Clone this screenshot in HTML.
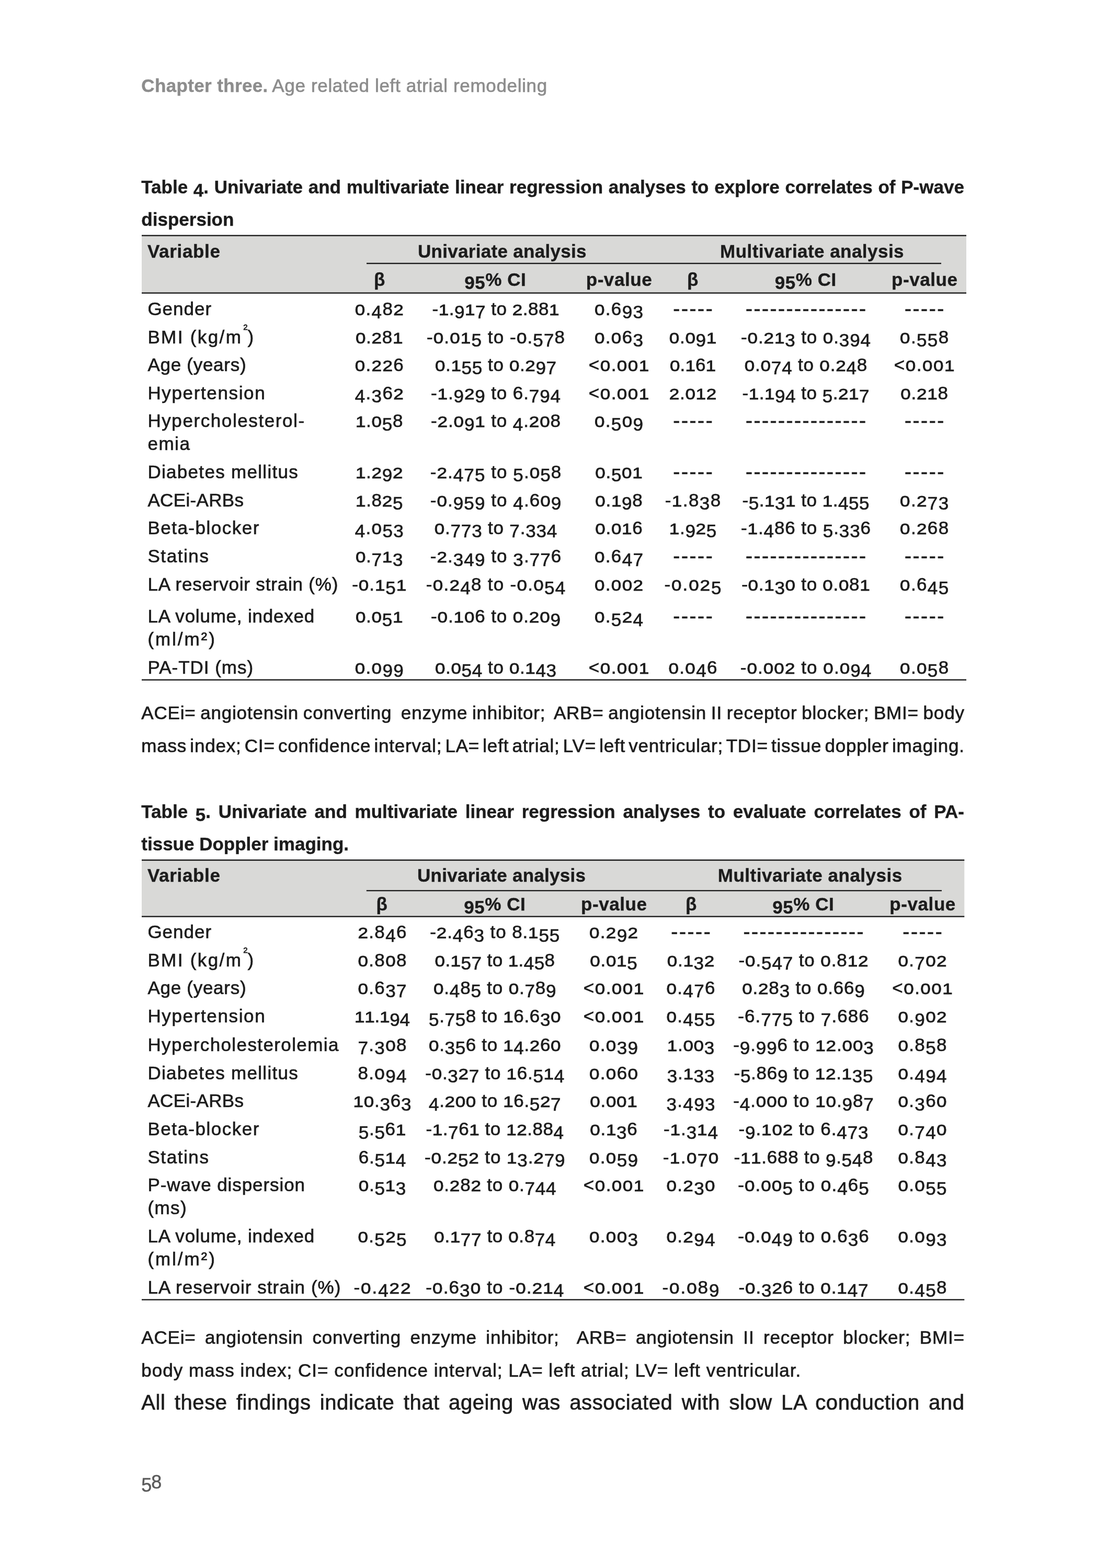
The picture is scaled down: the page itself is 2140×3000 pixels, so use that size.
<!DOCTYPE html>
<html lang="en">
<head>
<meta charset="utf-8">
<title>Chapter three. Age related left atrial remodeling</title>
<style>
html,body{margin:0;padding:0;background:#fff;}
body{width:2140px;height:3000px;position:relative;overflow:hidden;font-family:"Liberation Sans", sans-serif;color:#1c1c1c;}
.page{position:absolute;left:0;top:0;width:2140px;height:3000px;background:#fff;}
.t{position:absolute;white-space:pre;margin:0;padding:0;font-kerning:normal;-webkit-text-stroke:0.7px currentColor;}
.bd{-webkit-text-stroke:0.4px currentColor;}
.c{transform:translateX(-50%);}
b,.b{font-weight:bold;}
sup{font-size:15px;-webkit-text-stroke:0.8px currentColor;line-height:0;vertical-align:baseline;position:relative;top:-26px;letter-spacing:0;margin-left:2px;margin-right:0;}
svg.rules{position:absolute;left:0;top:0;}
.pn{-webkit-text-stroke:0.5px currentColor;}
i{font-style:normal;position:relative;top:6.5px;}
u{text-decoration:none;display:inline-block;-webkit-text-stroke:1px currentColor;transform:scaleY(0.85);transform-origin:50% 33.13px;}
</style>
</head>
<body>
<div class="page">
<svg class="rules" width="2140" height="3000" viewBox="0 0 2140 3000">
<rect x="271" y="451" width="1577" height="109" fill="#d9d9d7"/>
<rect x="271" y="449.5" width="1577" height="2.4" fill="#1c1c1c"/>
<rect x="701" y="502.8" width="1099" height="2.4" fill="#1c1c1c"/>
<rect x="271" y="559.4" width="1577" height="2.4" fill="#1c1c1c"/>
<rect x="271" y="1299.6" width="1577" height="2.4" fill="#1c1c1c"/>
<rect x="271" y="1646" width="1573.3" height="107" fill="#d9d9d7"/>
<rect x="271" y="1644.4" width="1573.3" height="2.5" fill="#1c1c1c"/>
<rect x="700.8" y="1702.9" width="1100.2" height="2.3" fill="#1c1c1c"/>
<rect x="271" y="1752.4" width="1573.3" height="2.4" fill="#1c1c1c"/>
<rect x="271" y="2485.5" width="1573.3" height="2.4" fill="#1c1c1c"/>
</svg>
<div class="t bd rh" style="top:142.87px;font-size:35px;line-height:42px;color:#8d8d8d;font-weight:bold;letter-spacing:0.363px;left:270.3px">Chapter three.</div>
<div class="t rh" style="top:142.87px;font-size:35px;line-height:42px;color:#8d8d8d;letter-spacing:0.666px;left:520.3px">Age related left atrial remodeling</div>
<div class="t bd cap" style="top:336.87px;font-size:35px;line-height:42px;font-weight:bold;word-spacing:1.017px;left:270.3px">Table <i>4</i>. Univariate and multivariate linear regression analyses to explore correlates of P-wave</div>
<div class="t bd cap" style="top:399.37px;font-size:35px;line-height:42px;font-weight:bold;letter-spacing:0.013px;left:270.3px">dispersion</div>
<div class="t bd th" style="top:459.87px;font-size:35px;line-height:42px;font-weight:bold;letter-spacing:0.676px;left:282px">Variable</div>
<div class="t bd c th" style="top:459.87px;font-size:35px;line-height:42px;font-weight:bold;letter-spacing:0.299px;left:960.45px">Univariate analysis</div>
<div class="t bd c th" style="top:459.87px;font-size:35px;line-height:42px;font-weight:bold;letter-spacing:0.455px;left:1553.03px">Multivariate analysis</div>
<div class="t bd c th" style="top:513.87px;font-size:35px;line-height:42px;font-weight:bold;left:725.60px">β</div>
<div class="t bd c th" style="top:513.87px;font-size:35px;line-height:42px;font-weight:bold;letter-spacing:0.541px;left:947.27px"><i>9</i><i>5</i>% CI</div>
<div class="t bd c th" style="top:513.87px;font-size:35px;line-height:42px;font-weight:bold;letter-spacing:0.592px;left:1184.00px">p-value</div>
<div class="t bd c th" style="top:513.87px;font-size:35px;line-height:42px;font-weight:bold;left:1324.70px">β</div>
<div class="t bd c th" style="top:513.87px;font-size:35px;line-height:42px;font-weight:bold;letter-spacing:0.541px;left:1540.77px"><i>9</i><i>5</i>% CI</div>
<div class="t bd c th" style="top:513.87px;font-size:35px;line-height:42px;font-weight:bold;letter-spacing:0.592px;left:1768.30px">p-value</div>
<div class="t td lab" style="top:569.87px;font-size:35px;line-height:42px;letter-spacing:0.990px;left:282.4px">Gender</div>
<div class="t c td" style="top:569.87px;font-size:35px;line-height:42px;letter-spacing:1.348px;left:725.87px"><u>0</u>.<i>4</i>8<u>2</u></div>
<div class="t c td" style="top:569.87px;font-size:35px;line-height:42px;letter-spacing:0.536px;left:948.27px">-<u>1</u>.<i>9</i><u>1</u><i>7</i> to <u>2</u>.88<u>1</u></div>
<div class="t c td" style="top:569.87px;font-size:35px;line-height:42px;letter-spacing:1.348px;left:1184.17px"><u>0</u>.6<i>9</i><i>3</i></div>
<div class="t c td dash" style="top:566.99px;font-size:39px;line-height:47px;letter-spacing:2.616px;left:1326.31px">-----</div>
<div class="t c td dash" style="top:566.99px;font-size:39px;line-height:47px;letter-spacing:2.506px;left:1542.25px">---------------</div>
<div class="t c td dash" style="top:566.99px;font-size:39px;line-height:47px;letter-spacing:2.616px;left:1768.91px">-----</div>
<div class="t td lab" style="top:623.87px;font-size:35px;line-height:42px;letter-spacing:2.375px;left:282.4px">BMI (kg/m<sup>2</sup>)</div>
<div class="t c td" style="top:623.87px;font-size:35px;line-height:42px;letter-spacing:0.723px;left:725.56px"><u>0</u>.<u>2</u>8<u>1</u></div>
<div class="t c td" style="top:623.87px;font-size:35px;line-height:42px;letter-spacing:1.122px;left:948.56px">-<u>0</u>.<u>0</u><u>1</u><i>5</i> to -<u>0</u>.<i>5</i><i>7</i>8</div>
<div class="t c td" style="top:623.87px;font-size:35px;line-height:42px;letter-spacing:1.348px;left:1184.17px"><u>0</u>.<u>0</u>6<i>3</i></div>
<div class="t c td" style="top:623.87px;font-size:35px;line-height:42px;letter-spacing:0.723px;left:1325.36px"><u>0</u>.<u>0</u><i>9</i><u>1</u></div>
<div class="t c td" style="top:623.87px;font-size:35px;line-height:42px;letter-spacing:0.892px;left:1541.45px">-<u>0</u>.<u>2</u><u>1</u><i>3</i> to <u>0</u>.<i>3</i><i>9</i><i>4</i></div>
<div class="t c td" style="top:623.87px;font-size:35px;line-height:42px;letter-spacing:1.348px;left:1768.27px"><u>0</u>.<i>5</i><i>5</i>8</div>
<div class="t td lab" style="top:676.87px;font-size:35px;line-height:42px;letter-spacing:0.729px;left:282.4px">Age (years)</div>
<div class="t c td" style="top:676.87px;font-size:35px;line-height:42px;letter-spacing:1.348px;left:725.87px"><u>0</u>.<u>2</u><u>2</u>6</div>
<div class="t c td" style="top:676.87px;font-size:35px;line-height:42px;letter-spacing:0.626px;left:948.31px"><u>0</u>.<u>1</u><i>5</i><i>5</i> to <u>0</u>.<u>2</u><i>9</i><i>7</i></div>
<div class="t c td" style="top:676.87px;font-size:35px;line-height:42px;letter-spacing:1.488px;left:1184.24px">&lt;<u>0</u>.<u>0</u><u>0</u><u>1</u></div>
<div class="t c td" style="top:676.87px;font-size:35px;line-height:42px;letter-spacing:0.098px;left:1325.05px"><u>0</u>.<u>1</u>6<u>1</u></div>
<div class="t c td" style="top:676.87px;font-size:35px;line-height:42px;letter-spacing:0.819px;left:1541.41px"><u>0</u>.<u>0</u><i>7</i><i>4</i> to <u>0</u>.<u>2</u><i>4</i>8</div>
<div class="t c td" style="top:676.87px;font-size:35px;line-height:42px;letter-spacing:1.488px;left:1768.34px">&lt;<u>0</u>.<u>0</u><u>0</u><u>1</u></div>
<div class="t td lab" style="top:730.67px;font-size:35px;line-height:42px;letter-spacing:1.642px;left:282.4px">Hypertension</div>
<div class="t c td" style="top:730.67px;font-size:35px;line-height:42px;letter-spacing:1.348px;left:725.87px"><i>4</i>.<i>3</i>6<u>2</u></div>
<div class="t c td" style="top:730.67px;font-size:35px;line-height:42px;letter-spacing:0.893px;left:948.45px">-<u>1</u>.<i>9</i><u>2</u><i>9</i> to 6.<i>7</i><i>9</i><i>4</i></div>
<div class="t c td" style="top:730.67px;font-size:35px;line-height:42px;letter-spacing:1.488px;left:1184.24px">&lt;<u>0</u>.<u>0</u><u>0</u><u>1</u></div>
<div class="t c td" style="top:730.67px;font-size:35px;line-height:42px;letter-spacing:0.723px;left:1325.36px"><u>2</u>.<u>0</u><u>1</u><u>2</u></div>
<div class="t c td" style="top:730.67px;font-size:35px;line-height:42px;letter-spacing:0.535px;left:1541.27px">-<u>1</u>.<u>1</u><i>9</i><i>4</i> to <i>5</i>.<u>2</u><u>1</u><i>7</i></div>
<div class="t c td" style="top:730.67px;font-size:35px;line-height:42px;letter-spacing:0.723px;left:1767.96px"><u>0</u>.<u>2</u><u>1</u>8</div>
<div class="t td lab" style="top:784.17px;font-size:35px;line-height:42px;letter-spacing:1.589px;left:282.4px">Hypercholesterol-</div>
<div class="t td lab" style="top:827.87px;font-size:35px;line-height:42px;letter-spacing:1.542px;left:282.4px">emia</div>
<div class="t c td" style="top:784.17px;font-size:35px;line-height:42px;letter-spacing:0.723px;left:725.56px"><u>1</u>.<u>0</u><i>5</i>8</div>
<div class="t c td" style="top:784.17px;font-size:35px;line-height:42px;letter-spacing:0.892px;left:948.45px">-<u>2</u>.<u>0</u><i>9</i><u>1</u> to <i>4</i>.<u>2</u><u>0</u>8</div>
<div class="t c td" style="top:784.17px;font-size:35px;line-height:42px;letter-spacing:1.348px;left:1184.17px"><u>0</u>.<i>5</i><u>0</u><i>9</i></div>
<div class="t c td dash" style="top:781.29px;font-size:39px;line-height:47px;letter-spacing:2.616px;left:1326.31px">-----</div>
<div class="t c td dash" style="top:781.29px;font-size:39px;line-height:47px;letter-spacing:2.506px;left:1542.25px">---------------</div>
<div class="t c td dash" style="top:781.29px;font-size:39px;line-height:47px;letter-spacing:2.616px;left:1768.91px">-----</div>
<div class="t td lab" style="top:881.57px;font-size:35px;line-height:42px;letter-spacing:1.306px;left:282.4px">Diabetes mellitus</div>
<div class="t c td" style="top:881.57px;font-size:35px;line-height:42px;letter-spacing:0.723px;left:725.56px"><u>1</u>.<u>2</u><i>9</i><u>2</u></div>
<div class="t c td" style="top:881.57px;font-size:35px;line-height:42px;letter-spacing:1.070px;left:948.54px">-<u>2</u>.<i>4</i><i>7</i><i>5</i> to <i>5</i>.<u>0</u><i>5</i>8</div>
<div class="t c td" style="top:881.57px;font-size:35px;line-height:42px;letter-spacing:0.723px;left:1183.86px"><u>0</u>.<i>5</i><u>0</u><u>1</u></div>
<div class="t c td dash" style="top:878.69px;font-size:39px;line-height:47px;letter-spacing:2.616px;left:1326.31px">-----</div>
<div class="t c td dash" style="top:878.69px;font-size:39px;line-height:47px;letter-spacing:2.506px;left:1542.25px">---------------</div>
<div class="t c td dash" style="top:878.69px;font-size:39px;line-height:47px;letter-spacing:2.616px;left:1768.91px">-----</div>
<div class="t td lab" style="top:935.57px;font-size:35px;line-height:42px;letter-spacing:0.341px;left:282.4px">ACEi-ARBs</div>
<div class="t c td" style="top:935.57px;font-size:35px;line-height:42px;letter-spacing:0.723px;left:725.56px"><u>1</u>.8<u>2</u><i>5</i></div>
<div class="t c td" style="top:935.57px;font-size:35px;line-height:42px;letter-spacing:1.070px;left:948.54px">-<u>0</u>.<i>9</i><i>5</i><i>9</i> to <i>4</i>.6<u>0</u><i>9</i></div>
<div class="t c td" style="top:935.57px;font-size:35px;line-height:42px;letter-spacing:0.723px;left:1183.86px"><u>0</u>.<u>1</u><i>9</i>8</div>
<div class="t c td" style="top:935.57px;font-size:35px;line-height:42px;letter-spacing:1.447px;left:1325.72px">-<u>1</u>.8<i>3</i>8</div>
<div class="t c td" style="top:935.57px;font-size:35px;line-height:42px;letter-spacing:0.535px;left:1541.27px">-<i>5</i>.<u>1</u><i>3</i><u>1</u> to <u>1</u>.<i>4</i><i>5</i><i>5</i></div>
<div class="t c td" style="top:935.57px;font-size:35px;line-height:42px;letter-spacing:1.348px;left:1768.27px"><u>0</u>.<u>2</u><i>7</i><i>3</i></div>
<div class="t td lab" style="top:988.87px;font-size:35px;line-height:42px;letter-spacing:1.492px;left:282.4px">Beta-blocker</div>
<div class="t c td" style="top:988.87px;font-size:35px;line-height:42px;letter-spacing:1.348px;left:725.87px"><i>4</i>.<u>0</u><i>5</i><i>3</i></div>
<div class="t c td" style="top:988.87px;font-size:35px;line-height:42px;letter-spacing:0.819px;left:948.41px"><u>0</u>.<i>7</i><i>7</i><i>3</i> to <i>7</i>.<i>3</i><i>3</i><i>4</i></div>
<div class="t c td" style="top:988.87px;font-size:35px;line-height:42px;letter-spacing:0.723px;left:1183.86px"><u>0</u>.<u>0</u><u>1</u>6</div>
<div class="t c td" style="top:988.87px;font-size:35px;line-height:42px;letter-spacing:0.723px;left:1325.36px"><u>1</u>.<i>9</i><u>2</u><i>5</i></div>
<div class="t c td" style="top:988.87px;font-size:35px;line-height:42px;letter-spacing:0.892px;left:1541.45px">-<u>1</u>.<i>4</i>86 to <i>5</i>.<i>3</i><i>3</i>6</div>
<div class="t c td" style="top:988.87px;font-size:35px;line-height:42px;letter-spacing:1.348px;left:1768.27px"><u>0</u>.<u>2</u>68</div>
<div class="t td lab" style="top:1043.17px;font-size:35px;line-height:42px;letter-spacing:1.583px;left:282.4px">Statins</div>
<div class="t c td" style="top:1043.17px;font-size:35px;line-height:42px;letter-spacing:0.723px;left:725.56px"><u>0</u>.<i>7</i><u>1</u><i>3</i></div>
<div class="t c td" style="top:1043.17px;font-size:35px;line-height:42px;letter-spacing:1.070px;left:948.54px">-<u>2</u>.<i>3</i><i>4</i><i>9</i> to <i>3</i>.<i>7</i><i>7</i>6</div>
<div class="t c td" style="top:1043.17px;font-size:35px;line-height:42px;letter-spacing:1.348px;left:1184.17px"><u>0</u>.6<i>4</i><i>7</i></div>
<div class="t c td dash" style="top:1040.29px;font-size:39px;line-height:47px;letter-spacing:2.616px;left:1326.31px">-----</div>
<div class="t c td dash" style="top:1040.29px;font-size:39px;line-height:47px;letter-spacing:2.506px;left:1542.25px">---------------</div>
<div class="t c td dash" style="top:1040.29px;font-size:39px;line-height:47px;letter-spacing:2.616px;left:1768.91px">-----</div>
<div class="t td lab" style="top:1097.47px;font-size:35px;line-height:42px;letter-spacing:0.808px;left:282.4px">LA reservoir strain (%)</div>
<div class="t c td" style="top:1097.47px;font-size:35px;line-height:42px;letter-spacing:0.947px;left:725.67px">-<u>0</u>.<u>1</u><i>5</i><u>1</u></div>
<div class="t c td" style="top:1097.47px;font-size:35px;line-height:42px;letter-spacing:1.289px;left:948.64px">-<u>0</u>.<u>2</u><i>4</i>8 to -<u>0</u>.<u>0</u><i>5</i><i>4</i></div>
<div class="t c td" style="top:1097.47px;font-size:35px;line-height:42px;letter-spacing:1.348px;left:1184.17px"><u>0</u>.<u>0</u><u>0</u><u>2</u></div>
<div class="t c td" style="top:1097.47px;font-size:35px;line-height:42px;letter-spacing:1.947px;left:1325.97px">-<u>0</u>.<u>0</u><u>2</u><i>5</i></div>
<div class="t c td" style="top:1097.47px;font-size:35px;line-height:42px;letter-spacing:0.713px;left:1541.36px">-<u>0</u>.<u>1</u><i>3</i><u>0</u> to <u>0</u>.<u>0</u>8<u>1</u></div>
<div class="t c td" style="top:1097.47px;font-size:35px;line-height:42px;letter-spacing:1.348px;left:1768.27px"><u>0</u>.6<i>4</i><i>5</i></div>
<div class="t td lab" style="top:1158.07px;font-size:35px;line-height:42px;letter-spacing:0.783px;left:282.4px">LA volume, indexed</div>
<div class="t td lab" style="top:1201.77px;font-size:35px;line-height:42px;letter-spacing:2.953px;left:282.4px">(ml/m²)</div>
<div class="t c td" style="top:1158.07px;font-size:35px;line-height:42px;letter-spacing:0.723px;left:725.56px"><u>0</u>.<u>0</u><i>5</i><u>1</u></div>
<div class="t c td" style="top:1158.07px;font-size:35px;line-height:42px;letter-spacing:0.892px;left:948.45px">-<u>0</u>.<u>1</u><u>0</u>6 to <u>0</u>.<u>2</u><u>0</u><i>9</i></div>
<div class="t c td" style="top:1158.07px;font-size:35px;line-height:42px;letter-spacing:1.348px;left:1184.17px"><u>0</u>.<i>5</i><u>2</u><i>4</i></div>
<div class="t c td dash" style="top:1155.19px;font-size:39px;line-height:47px;letter-spacing:2.616px;left:1326.31px">-----</div>
<div class="t c td dash" style="top:1155.19px;font-size:39px;line-height:47px;letter-spacing:2.506px;left:1542.25px">---------------</div>
<div class="t c td dash" style="top:1155.19px;font-size:39px;line-height:47px;letter-spacing:2.616px;left:1768.91px">-----</div>
<div class="t td lab" style="top:1255.67px;font-size:35px;line-height:42px;letter-spacing:0.997px;left:282.4px">PA-TDI (ms)</div>
<div class="t c td" style="top:1255.67px;font-size:35px;line-height:42px;letter-spacing:1.348px;left:725.87px"><u>0</u>.<u>0</u><i>9</i><i>9</i></div>
<div class="t c td" style="top:1255.67px;font-size:35px;line-height:42px;letter-spacing:0.626px;left:948.31px"><u>0</u>.<u>0</u><i>5</i><i>4</i> to <u>0</u>.<u>1</u><i>4</i><i>3</i></div>
<div class="t c td" style="top:1255.67px;font-size:35px;line-height:42px;letter-spacing:1.488px;left:1184.24px">&lt;<u>0</u>.<u>0</u><u>0</u><u>1</u></div>
<div class="t c td" style="top:1255.67px;font-size:35px;line-height:42px;letter-spacing:1.348px;left:1325.67px"><u>0</u>.<u>0</u><i>4</i>6</div>
<div class="t c td" style="top:1255.67px;font-size:35px;line-height:42px;letter-spacing:1.070px;left:1541.54px">-<u>0</u>.<u>0</u><u>0</u><u>2</u> to <u>0</u>.<u>0</u><i>9</i><i>4</i></div>
<div class="t c td" style="top:1255.67px;font-size:35px;line-height:42px;letter-spacing:1.348px;left:1768.27px"><u>0</u>.<u>0</u><i>5</i>8</div>
<div class="t note" style="top:1342.67px;font-size:35px;line-height:42px;letter-spacing:0.800px;word-spacing:-1.755px;left:270.3px">ACEi= angiotensin converting  enzyme inhibitor;  ARB= angiotensin II receptor blocker; BMI= body</div>
<div class="t note" style="top:1405.67px;font-size:35px;line-height:42px;letter-spacing:0.800px;word-spacing:-4.282px;left:270.3px">mass index; CI= confidence interval; LA= left atrial; LV= left ventricular; TDI= tissue doppler imaging.</div>
<div class="t bd cap" style="top:1531.67px;font-size:35px;line-height:42px;font-weight:bold;word-spacing:4.963px;left:270.3px">Table <i>5</i>. Univariate and multivariate linear regression analyses to evaluate correlates of PA-</div>
<div class="t bd cap" style="top:1593.87px;font-size:35px;line-height:42px;font-weight:bold;left:270.3px">tissue Doppler imaging.</div>
<div class="t bd th" style="top:1654.47px;font-size:35px;line-height:42px;font-weight:bold;letter-spacing:0.676px;left:282px">Variable</div>
<div class="t bd c th" style="top:1654.47px;font-size:35px;line-height:42px;font-weight:bold;letter-spacing:0.271px;left:959.14px">Univariate analysis</div>
<div class="t bd c th" style="top:1654.47px;font-size:35px;line-height:42px;font-weight:bold;letter-spacing:0.505px;left:1549.25px">Multivariate analysis</div>
<div class="t bd c th" style="top:1708.57px;font-size:35px;line-height:42px;font-weight:bold;left:730.20px">β</div>
<div class="t bd c th" style="top:1708.57px;font-size:35px;line-height:42px;font-weight:bold;letter-spacing:0.541px;left:946.27px"><i>9</i><i>5</i>% CI</div>
<div class="t bd c th" style="top:1708.57px;font-size:35px;line-height:42px;font-weight:bold;letter-spacing:0.592px;left:1174.30px">p-value</div>
<div class="t bd c th" style="top:1708.57px;font-size:35px;line-height:42px;font-weight:bold;left:1321.70px">β</div>
<div class="t bd c th" style="top:1708.57px;font-size:35px;line-height:42px;font-weight:bold;letter-spacing:0.541px;left:1536.27px"><i>9</i><i>5</i>% CI</div>
<div class="t bd c th" style="top:1708.57px;font-size:35px;line-height:42px;font-weight:bold;letter-spacing:0.592px;left:1764.60px">p-value</div>
<div class="t td lab" style="top:1762.07px;font-size:35px;line-height:42px;letter-spacing:0.990px;left:282.4px">Gender</div>
<div class="t c td" style="top:1762.07px;font-size:35px;line-height:42px;letter-spacing:1.348px;left:731.67px"><u>2</u>.8<i>4</i>6</div>
<div class="t c td" style="top:1762.07px;font-size:35px;line-height:42px;letter-spacing:0.893px;left:946.75px">-<u>2</u>.<i>4</i>6<i>3</i> to 8.<u>1</u><i>5</i><i>5</i></div>
<div class="t c td" style="top:1762.07px;font-size:35px;line-height:42px;letter-spacing:1.348px;left:1174.17px"><u>0</u>.<u>2</u><i>9</i><u>2</u></div>
<div class="t c td dash" style="top:1759.19px;font-size:39px;line-height:47px;letter-spacing:2.616px;left:1322.31px">-----</div>
<div class="t c td dash" style="top:1759.19px;font-size:39px;line-height:47px;letter-spacing:2.506px;left:1537.75px">---------------</div>
<div class="t c td dash" style="top:1759.19px;font-size:39px;line-height:47px;letter-spacing:2.616px;left:1765.31px">-----</div>
<div class="t td lab" style="top:1815.87px;font-size:35px;line-height:42px;letter-spacing:2.375px;left:282.4px">BMI (kg/m<sup>2</sup>)</div>
<div class="t c td" style="top:1815.87px;font-size:35px;line-height:42px;letter-spacing:1.348px;left:731.67px"><u>0</u>.8<u>0</u>8</div>
<div class="t c td" style="top:1815.87px;font-size:35px;line-height:42px;letter-spacing:0.434px;left:946.52px"><u>0</u>.<u>1</u><i>5</i><i>7</i> to <u>1</u>.<i>4</i><i>5</i>8</div>
<div class="t c td" style="top:1815.87px;font-size:35px;line-height:42px;letter-spacing:0.723px;left:1173.86px"><u>0</u>.<u>0</u><u>1</u><i>5</i></div>
<div class="t c td" style="top:1815.87px;font-size:35px;line-height:42px;letter-spacing:0.723px;left:1321.36px"><u>0</u>.<u>1</u><i>3</i><u>2</u></div>
<div class="t c td" style="top:1815.87px;font-size:35px;line-height:42px;letter-spacing:0.892px;left:1536.95px">-<u>0</u>.<i>5</i><i>4</i><i>7</i> to <u>0</u>.8<u>1</u><u>2</u></div>
<div class="t c td" style="top:1815.87px;font-size:35px;line-height:42px;letter-spacing:1.348px;left:1764.67px"><u>0</u>.<i>7</i><u>0</u><u>2</u></div>
<div class="t td lab" style="top:1868.87px;font-size:35px;line-height:42px;letter-spacing:0.729px;left:282.4px">Age (years)</div>
<div class="t c td" style="top:1868.87px;font-size:35px;line-height:42px;letter-spacing:1.348px;left:731.67px"><u>0</u>.6<i>3</i><i>7</i></div>
<div class="t c td" style="top:1868.87px;font-size:35px;line-height:42px;letter-spacing:0.819px;left:946.71px"><u>0</u>.<i>4</i>8<i>5</i> to <u>0</u>.<i>7</i>8<i>9</i></div>
<div class="t c td" style="top:1868.87px;font-size:35px;line-height:42px;letter-spacing:1.488px;left:1174.24px">&lt;<u>0</u>.<u>0</u><u>0</u><u>1</u></div>
<div class="t c td" style="top:1868.87px;font-size:35px;line-height:42px;letter-spacing:1.348px;left:1321.67px"><u>0</u>.<i>4</i><i>7</i>6</div>
<div class="t c td" style="top:1868.87px;font-size:35px;line-height:42px;letter-spacing:0.820px;left:1536.91px"><u>0</u>.<u>2</u>8<i>3</i> to <u>0</u>.66<i>9</i></div>
<div class="t c td" style="top:1868.87px;font-size:35px;line-height:42px;letter-spacing:1.488px;left:1764.74px">&lt;<u>0</u>.<u>0</u><u>0</u><u>1</u></div>
<div class="t td lab" style="top:1923.17px;font-size:35px;line-height:42px;letter-spacing:1.642px;left:282.4px">Hypertension</div>
<div class="t c td" style="top:1923.17px;font-size:35px;line-height:42px;letter-spacing:-0.216px;left:730.89px"><u>1</u><u>1</u>.<u>1</u><i>9</i><i>4</i></div>
<div class="t c td" style="top:1923.17px;font-size:35px;line-height:42px;letter-spacing:0.656px;left:946.63px"><i>5</i>.<i>7</i><i>5</i>8 to <u>1</u>6.6<i>3</i><u>0</u></div>
<div class="t c td" style="top:1923.17px;font-size:35px;line-height:42px;letter-spacing:1.488px;left:1174.24px">&lt;<u>0</u>.<u>0</u><u>0</u><u>1</u></div>
<div class="t c td" style="top:1923.17px;font-size:35px;line-height:42px;letter-spacing:1.348px;left:1321.67px"><u>0</u>.<i>4</i><i>5</i><i>5</i></div>
<div class="t c td" style="top:1923.17px;font-size:35px;line-height:42px;letter-spacing:1.071px;left:1537.04px">-6.<i>7</i><i>7</i><i>5</i> to <i>7</i>.686</div>
<div class="t c td" style="top:1923.17px;font-size:35px;line-height:42px;letter-spacing:1.348px;left:1764.67px"><u>0</u>.<i>9</i><u>0</u><u>2</u></div>
<div class="t td lab" style="top:1977.67px;font-size:35px;line-height:42px;letter-spacing:1.396px;left:282.4px">Hypercholesterolemia</div>
<div class="t c td" style="top:1977.67px;font-size:35px;line-height:42px;letter-spacing:1.348px;left:731.67px"><i>7</i>.<i>3</i><u>0</u>8</div>
<div class="t c td" style="top:1977.67px;font-size:35px;line-height:42px;letter-spacing:0.655px;left:946.63px"><u>0</u>.<i>3</i><i>5</i>6 to <u>1</u><i>4</i>.<u>2</u>6<u>0</u></div>
<div class="t c td" style="top:1977.67px;font-size:35px;line-height:42px;letter-spacing:1.348px;left:1174.17px"><u>0</u>.<u>0</u><i>3</i><i>9</i></div>
<div class="t c td" style="top:1977.67px;font-size:35px;line-height:42px;letter-spacing:0.723px;left:1321.36px"><u>1</u>.<u>0</u><u>0</u><i>3</i></div>
<div class="t c td" style="top:1977.67px;font-size:35px;line-height:42px;letter-spacing:0.901px;left:1536.95px">-<i>9</i>.<i>9</i><i>9</i>6 to <u>1</u><u>2</u>.<u>0</u><u>0</u><i>3</i></div>
<div class="t c td" style="top:1977.67px;font-size:35px;line-height:42px;letter-spacing:1.348px;left:1764.67px"><u>0</u>.8<i>5</i>8</div>
<div class="t td lab" style="top:2031.57px;font-size:35px;line-height:42px;letter-spacing:1.306px;left:282.4px">Diabetes mellitus</div>
<div class="t c td" style="top:2031.57px;font-size:35px;line-height:42px;letter-spacing:1.348px;left:731.67px">8.<u>0</u><i>9</i><i>4</i></div>
<div class="t c td" style="top:2031.57px;font-size:35px;line-height:42px;letter-spacing:0.734px;left:946.67px">-<u>0</u>.<i>3</i><u>2</u><i>7</i> to <u>1</u>6.<i>5</i><u>1</u><i>4</i></div>
<div class="t c td" style="top:2031.57px;font-size:35px;line-height:42px;letter-spacing:1.348px;left:1174.17px"><u>0</u>.<u>0</u>6<u>0</u></div>
<div class="t c td" style="top:2031.57px;font-size:35px;line-height:42px;letter-spacing:0.723px;left:1321.36px"><i>3</i>.<u>1</u><i>3</i><i>3</i></div>
<div class="t c td" style="top:2031.57px;font-size:35px;line-height:42px;letter-spacing:0.735px;left:1536.87px">-<i>5</i>.86<i>9</i> to <u>1</u><u>2</u>.<u>1</u><i>3</i><i>5</i></div>
<div class="t c td" style="top:2031.57px;font-size:35px;line-height:42px;letter-spacing:1.348px;left:1764.67px"><u>0</u>.<i>4</i><i>9</i><i>4</i></div>
<div class="t td lab" style="top:2085.47px;font-size:35px;line-height:42px;letter-spacing:0.341px;left:282.4px">ACEi-ARBs</div>
<div class="t c td" style="top:2085.47px;font-size:35px;line-height:42px;letter-spacing:0.784px;left:731.39px"><u>1</u><u>0</u>.<i>3</i>6<i>3</i></div>
<div class="t c td" style="top:2085.47px;font-size:35px;line-height:42px;letter-spacing:0.655px;left:946.63px"><i>4</i>.<u>2</u><u>0</u><u>0</u> to <u>1</u>6.<i>5</i><u>2</u><i>7</i></div>
<div class="t c td" style="top:2085.47px;font-size:35px;line-height:42px;letter-spacing:0.723px;left:1173.86px"><u>0</u>.<u>0</u><u>0</u><u>1</u></div>
<div class="t c td" style="top:2085.47px;font-size:35px;line-height:42px;letter-spacing:1.348px;left:1321.67px"><i>3</i>.<i>4</i><i>9</i><i>3</i></div>
<div class="t c td" style="top:2085.47px;font-size:35px;line-height:42px;letter-spacing:0.901px;left:1536.95px">-<i>4</i>.<u>0</u><u>0</u><u>0</u> to <u>1</u><u>0</u>.<i>9</i>8<i>7</i></div>
<div class="t c td" style="top:2085.47px;font-size:35px;line-height:42px;letter-spacing:1.348px;left:1764.67px"><u>0</u>.<i>3</i>6<u>0</u></div>
<div class="t td lab" style="top:2139.37px;font-size:35px;line-height:42px;letter-spacing:1.492px;left:282.4px">Beta-blocker</div>
<div class="t c td" style="top:2139.37px;font-size:35px;line-height:42px;letter-spacing:0.723px;left:731.36px"><i>5</i>.<i>5</i>6<u>1</u></div>
<div class="t c td" style="top:2139.37px;font-size:35px;line-height:42px;letter-spacing:0.569px;left:946.58px">-<u>1</u>.<i>7</i>6<u>1</u> to <u>1</u><u>2</u>.88<i>4</i></div>
<div class="t c td" style="top:2139.37px;font-size:35px;line-height:42px;letter-spacing:0.723px;left:1173.86px"><u>0</u>.<u>1</u><i>3</i>6</div>
<div class="t c td" style="top:2139.37px;font-size:35px;line-height:42px;letter-spacing:0.947px;left:1321.47px">-<u>1</u>.<i>3</i><u>1</u><i>4</i></div>
<div class="t c td" style="top:2139.37px;font-size:35px;line-height:42px;letter-spacing:0.893px;left:1536.95px">-<i>9</i>.<u>1</u><u>0</u><u>2</u> to 6.<i>4</i><i>7</i><i>3</i></div>
<div class="t c td" style="top:2139.37px;font-size:35px;line-height:42px;letter-spacing:1.348px;left:1764.67px"><u>0</u>.<i>7</i><i>4</i><u>0</u></div>
<div class="t td lab" style="top:2192.67px;font-size:35px;line-height:42px;letter-spacing:1.583px;left:282.4px">Statins</div>
<div class="t c td" style="top:2192.67px;font-size:35px;line-height:42px;letter-spacing:0.723px;left:731.36px">6.<i>5</i><u>1</u><i>4</i></div>
<div class="t c td" style="top:2192.67px;font-size:35px;line-height:42px;letter-spacing:0.901px;left:946.75px">-<u>0</u>.<u>2</u><i>5</i><u>2</u> to <u>1</u><i>3</i>.<u>2</u><i>7</i><i>9</i></div>
<div class="t c td" style="top:2192.67px;font-size:35px;line-height:42px;letter-spacing:1.348px;left:1174.17px"><u>0</u>.<u>0</u><i>5</i><i>9</i></div>
<div class="t c td" style="top:2192.67px;font-size:35px;line-height:42px;letter-spacing:1.447px;left:1321.72px">-<u>1</u>.<u>0</u><i>7</i><u>0</u></div>
<div class="t c td" style="top:2192.67px;font-size:35px;line-height:42px;letter-spacing:0.735px;left:1536.87px">-<u>1</u><u>1</u>.688 to <i>9</i>.<i>5</i><i>4</i>8</div>
<div class="t c td" style="top:2192.67px;font-size:35px;line-height:42px;letter-spacing:1.348px;left:1764.67px"><u>0</u>.8<i>4</i><i>3</i></div>
<div class="t td lab" style="top:2246.47px;font-size:35px;line-height:42px;letter-spacing:0.914px;left:282.4px">P-wave dispersion</div>
<div class="t td lab" style="top:2289.97px;font-size:35px;line-height:42px;letter-spacing:1.444px;left:282.4px">(ms)</div>
<div class="t c td" style="top:2246.47px;font-size:35px;line-height:42px;letter-spacing:0.723px;left:731.36px"><u>0</u>.<i>5</i><u>1</u><i>3</i></div>
<div class="t c td" style="top:2246.47px;font-size:35px;line-height:42px;letter-spacing:0.819px;left:946.71px"><u>0</u>.<u>2</u>8<u>2</u> to <u>0</u>.<i>7</i><i>4</i><i>4</i></div>
<div class="t c td" style="top:2246.47px;font-size:35px;line-height:42px;letter-spacing:1.488px;left:1174.24px">&lt;<u>0</u>.<u>0</u><u>0</u><u>1</u></div>
<div class="t c td" style="top:2246.47px;font-size:35px;line-height:42px;letter-spacing:1.348px;left:1321.67px"><u>0</u>.<u>2</u><i>3</i><u>0</u></div>
<div class="t c td" style="top:2246.47px;font-size:35px;line-height:42px;letter-spacing:1.070px;left:1537.04px">-<u>0</u>.<u>0</u><u>0</u><i>5</i> to <u>0</u>.<i>4</i>6<i>5</i></div>
<div class="t c td" style="top:2246.47px;font-size:35px;line-height:42px;letter-spacing:1.348px;left:1764.67px"><u>0</u>.<u>0</u><i>5</i><i>5</i></div>
<div class="t td lab" style="top:2344.07px;font-size:35px;line-height:42px;letter-spacing:0.783px;left:282.4px">LA volume, indexed</div>
<div class="t td lab" style="top:2387.57px;font-size:35px;line-height:42px;letter-spacing:2.953px;left:282.4px">(ml/m²)</div>
<div class="t c td" style="top:2344.07px;font-size:35px;line-height:42px;letter-spacing:1.348px;left:731.67px"><u>0</u>.<i>5</i><u>2</u><i>5</i></div>
<div class="t c td" style="top:2344.07px;font-size:35px;line-height:42px;letter-spacing:0.626px;left:946.61px"><u>0</u>.<u>1</u><i>7</i><i>7</i> to <u>0</u>.8<i>7</i><i>4</i></div>
<div class="t c td" style="top:2344.07px;font-size:35px;line-height:42px;letter-spacing:1.348px;left:1174.17px"><u>0</u>.<u>0</u><u>0</u><i>3</i></div>
<div class="t c td" style="top:2344.07px;font-size:35px;line-height:42px;letter-spacing:1.348px;left:1321.67px"><u>0</u>.<u>2</u><i>9</i><i>4</i></div>
<div class="t c td" style="top:2344.07px;font-size:35px;line-height:42px;letter-spacing:1.070px;left:1537.04px">-<u>0</u>.<u>0</u><i>4</i><i>9</i> to <u>0</u>.6<i>3</i>6</div>
<div class="t c td" style="top:2344.07px;font-size:35px;line-height:42px;letter-spacing:1.348px;left:1764.67px"><u>0</u>.<u>0</u><i>9</i><i>3</i></div>
<div class="t td lab" style="top:2441.57px;font-size:35px;line-height:42px;letter-spacing:1.036px;left:282.4px">LA reservoir strain (%)</div>
<div class="t c td" style="top:2441.57px;font-size:35px;line-height:42px;letter-spacing:1.947px;left:731.97px">-<u>0</u>.<i>4</i><u>2</u><u>2</u></div>
<div class="t c td" style="top:2441.57px;font-size:35px;line-height:42px;letter-spacing:1.122px;left:946.86px">-<u>0</u>.6<i>3</i><u>0</u> to -<u>0</u>.<u>2</u><u>1</u><i>4</i></div>
<div class="t c td" style="top:2441.57px;font-size:35px;line-height:42px;letter-spacing:1.488px;left:1174.24px">&lt;<u>0</u>.<u>0</u><u>0</u><u>1</u></div>
<div class="t c td" style="top:2441.57px;font-size:35px;line-height:42px;letter-spacing:1.947px;left:1321.97px">-<u>0</u>.<u>0</u>8<i>9</i></div>
<div class="t c td" style="top:2441.57px;font-size:35px;line-height:42px;letter-spacing:0.892px;left:1536.95px">-<u>0</u>.<i>3</i><u>2</u>6 to <u>0</u>.<u>1</u><i>4</i><i>7</i></div>
<div class="t c td" style="top:2441.57px;font-size:35px;line-height:42px;letter-spacing:1.348px;left:1764.67px"><u>0</u>.<i>4</i><i>5</i>8</div>
<div class="t note" style="top:2537.87px;font-size:35px;line-height:42px;letter-spacing:0.800px;word-spacing:7.029px;left:270.3px">ACEi= angiotensin converting enzyme inhibitor;  ARB= angiotensin II receptor blocker; BMI=</div>
<div class="t note" style="top:2600.57px;font-size:35px;line-height:42px;letter-spacing:1.034px;left:270.3px">body mass index; CI= confidence interval; LA= left atrial; LV= left ventricular.</div>
<div class="t para" style="top:2659.34px;font-size:40px;line-height:48px;letter-spacing:0.600px;word-spacing:5.526px;left:270.3px">All these findings indicate that ageing was associated with slow LA conduction and</div>
<div class="t pn" style="top:2813.53px;font-size:36px;line-height:43px;color:#5b5b5b;letter-spacing:-0.962px;left:270.3px"><i>5</i>8</div>
</div>
</body>
</html>
